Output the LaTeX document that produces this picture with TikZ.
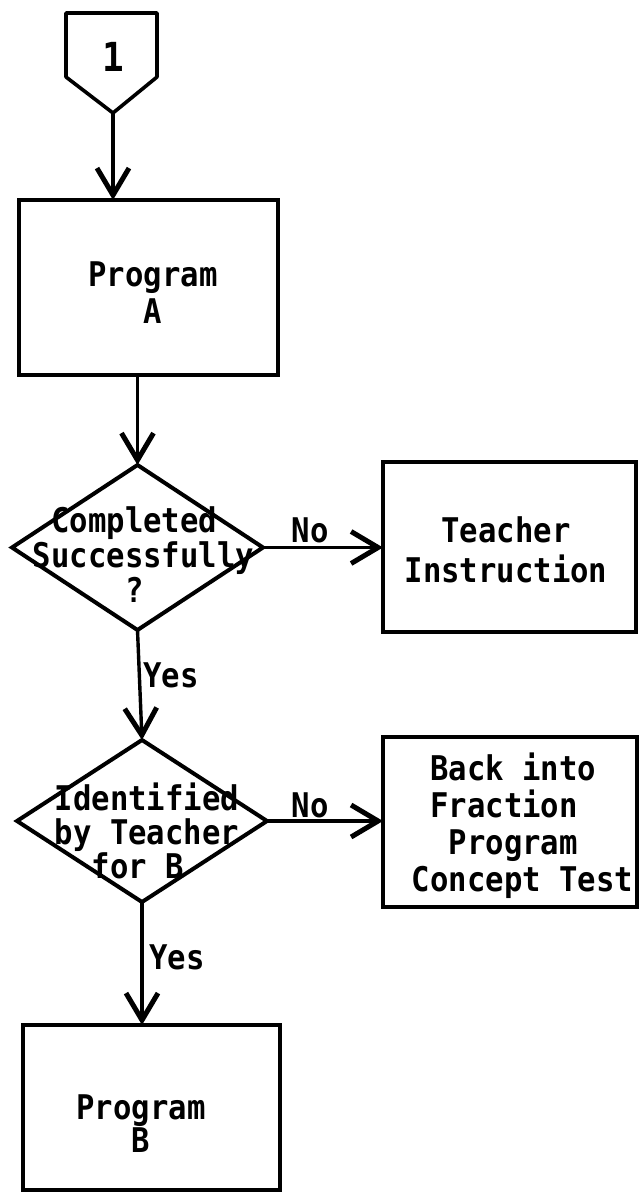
\documentclass[tikz,border=0pt]{standalone}
\usepackage{fontspec}
\newfontfamily\tw[FakeStretch=0.9]{DejaVu Sans Mono}
\usetikzlibrary{arrows.meta,shapes.geometric}
\newcommand{\chsp}{\phantom{X}}
\begin{document}
\begin{tikzpicture}[x=1pt,y=-1pt,
  boxn/.style={draw, line width=3.6pt, inner sep=0pt, outer sep=0pt},
  dia/.style={draw, diamond, line width=4pt, inner sep=0pt, outer sep=0pt},
  txt/.style={font={\tw\bfseries\fontsize{34}{36}\selectfont}, align=center, inner sep=0pt},
  lbl/.style={font={\tw\bfseries\fontsize{34}{36}\selectfont}, inner sep=0pt},
  flow/.style={line width=3.4pt, -{Straight Barb[length=27pt,width=32pt,line width=5pt]}}
]
\useasboundingbox (0,0) rectangle (639,1193);
% off-page connector
\draw[line width=3.6pt, line join=round] (66,13) -- (157,13) -- (157,77) -- (113,113) -- (66,77) -- cycle;
\coordinate (c1tip) at (113,113);
\node[lbl, font={\tw\bfseries\fontsize{40}{40}\selectfont}] (one) at (113,57) {1};
% Program A
\node[boxn, minimum width=259pt, minimum height=175pt] (A) at (148.5,287.5) {};
\node[txt, font={\tw\bfseries\fontsize{34}{37}\selectfont}] (At) at (153,293) {Program\\A};
% decision 1
\node[dia, minimum width=251pt, minimum height=165pt] (d1) at (137.5,547.5) {};
\node[txt, align=left, font={\tw\bfseries\fontsize{34}{35}\selectfont}] (d1t) at (143.5,555) {\chsp Completed\\Successfully\\\chsp\chsp\chsp\chsp\chsp ?};
% teacher instruction
\node[boxn, minimum width=253pt, minimum height=170pt] (tb) at (509.5,547) {};
\node[txt, font={\tw\bfseries\fontsize{34}{40}\selectfont}] (tbt) at (506,550) {Teacher\\Instruction};
% decision 2
\node[dia, minimum width=250pt, minimum height=162pt] (d2) at (142,821) {};
\node[txt, align=left, font={\tw\bfseries\fontsize{34}{34}\selectfont}] (d2t) at (147,831) {Identified\\by Teacher\\\chsp\chsp for B};
% back into box
\node[boxn, minimum width=254pt, minimum height=170pt] (bk) at (510,822) {};
\node[txt, align=left, font={\tw\bfseries\fontsize{34}{37}\selectfont}] (bkt) at (522.5,826) {\chsp Back into\\\chsp Fraction\\\chsp\chsp Program\\Concept Test};
% Program B
\node[boxn, minimum width=257pt, minimum height=165pt] (B) at (151.5,1107.5) {};
\node[txt, font={\tw\bfseries\fontsize{34}{30}\selectfont}] (Bt) at (141,1124) {Program\\B};
% connectors
\draw[flow] (c1tip) -- (c1tip |- A.north);
\draw[flow] (d1.north |- A.south) -- (d1.north);
\draw[flow] (d1.east) -- (d1.east -| tb.west);
\draw[flow] (d1.south) -- (d2.north);
\draw[flow] (d2.east) -- (d2.east -| bk.west);
\draw[flow] (d2.south) -- (d2.south |- B.north);
% labels
\node[lbl] (no1) at (310,530) {No};
\node[lbl] (yes1) at (171,675) {Yes};
\node[lbl] (no2) at (310,805) {No};
\node[lbl] (yes2) at (177,957) {Yes};
\end{tikzpicture}
\end{document}
